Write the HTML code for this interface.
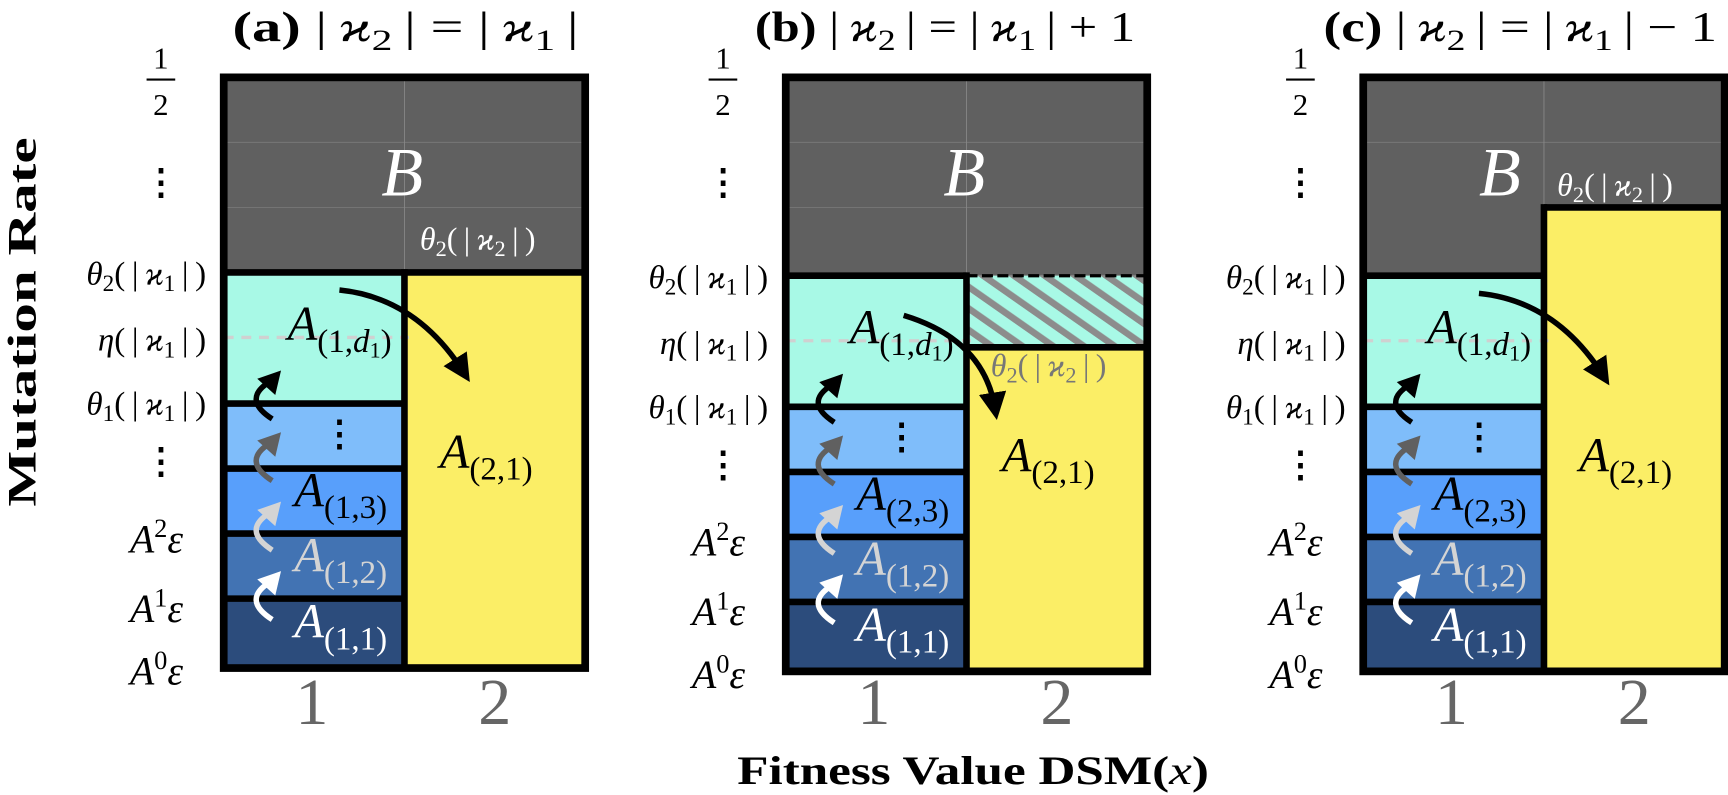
<!DOCTYPE html>
<html><head><meta charset="utf-8">
<style>
html,body{margin:0;padding:0;background:#fff;width:1728px;height:795px;overflow:hidden}
svg{display:block}
text{font-family:"Liberation Serif","DejaVu Serif",serif}
</style></head>
<body>
<svg id="fig" width="1728" height="795" viewBox="0 0 1568 721" xmlns="http://www.w3.org/2000/svg">
<defs>
<marker id="hbig" markerWidth="5" markerHeight="5" refX="3" refY="2.5" orient="auto" markerUnits="strokeWidth"><path d="M0,0 L5,2.5 L0,5 z" fill="#000"/></marker>
<pattern id="hatch" patternUnits="userSpaceOnUse" width="16" height="16" patternTransform="rotate(-55)">
<rect width="16" height="16" fill="#a8f9e6"/><rect width="6" height="16" fill="#8c8c8c"/></pattern>
</defs>
<g id="root"></g>
</svg>
<script>
const panelIds = ['a','b','c'];
const panelX = [203, 713, 1237];
const panelDy = [0, 3, 3];
const titleRhs = ['', ' + 1', ' − 1'];
const titleX = [211, 685, 1201];
const titleLen = [314, 345, 357];
const rowEdges = [70, 247, 366, 425, 484, 543, 606];
const rowColors = ['#606060','#a8f9e6','#7fbdfa','#589ffb','#4273b3','#2c4c7c'];
const subs = [['(1,1)','(1,2)','(1,3)'],['(1,1)','(1,2)','(2,3)'],['(1,1)','(1,2)','(2,3)']];
const NS = 'http://www.w3.org/2000/svg';
const root = document.getElementById('root');
function el(tag, attrs, parent, txt){
  const e = document.createElementNS(NS, tag);
  for (const k in attrs) e.setAttribute(k, attrs[k]);
  if (txt !== undefined) e.textContent = txt;
  (parent||root).appendChild(e); return e;
}
function tsp(t, txt, attrs){ return el('tspan', attrs||{}, t, txt); }
function mathA(g, x, y, sub, fill, name){
  const t = el('text', {x:x, y:y, 'font-size':44, fill:fill, 'font-style':'italic'}, g);
  
  
  tsp(t, 'A');
  const parts = sub.match(/\((\d),(.+)\)/);
  tsp(t, '(' + parts[1] + ',', {dy:11, 'font-size':30, 'font-style':'normal'});
  if (parts[2] === 'd') { tsp(t, 'd', {'font-size':30}); tsp(t, '1', {dy:5,'font-size':20,'font-style':'normal'}); tsp(t, ')', {dy:-5,'font-size':30,'font-style':'normal'}); }
  else tsp(t, parts[2] + ')', {'font-size':30, 'font-style':'normal'});
  return t;
}
function funcLabel(g, x, y, fn, sub, inner, isub, fill, size, anchor, name){
  const t = el('text', {x:x, y:y, 'font-size':size, fill:fill, 'text-anchor':anchor||'start'}, g);
  
  
  tsp(t, fn, {'font-style':'italic'});
  if (sub) tsp(t, sub, {dy:6, 'font-size':size*0.7});
  tsp(t, '(\u2009|\u2009', {dy: sub ? -6 : 0});
  tsp(t, inner, {'font-style':'italic'});
  tsp(t, isub, {dy:6, 'font-size':size*0.7});
  tsp(t, '\u2009|\u2009)', {dy:-6});
  return t;
}
function head(g, tx, ty, ang, color, size){
  const a = ang*Math.PI/180, s = size;
  const p1 = [tx, ty];
  const bx = tx - s*Math.cos(a), by = ty - s*Math.sin(a);
  const p2 = [bx + 0.55*s*Math.sin(a), by - 0.55*s*Math.cos(a)];
  const p3 = [bx - 0.55*s*Math.sin(a), by + 0.55*s*Math.cos(a)];
  return el('polygon', {points:[p1,p2,p3].map(p=>p.join(',')).join(' '), fill:color}, g);
}
panelIds.forEach((pid, i) => {
  const X = panelX[i], dy = panelDy[i], W = 328, M = X + 164, R = X + W;
  const Y = v => v + (v > 100 ? dy : 0);
  const g = el('g', {});
  
  
  for (let r = 0; r < rowColors.length; r++) {
    const top = Y(rowEdges[r]), bot = Y(rowEdges[r+1]);
    const rc = el('rect', {x:X, y:top, width:(r===0?W:164), height:bot-top, fill:rowColors[r]}, g);
    
    
  }
  const yTopRight = i===2 ? 188 : (i===1 ? Y(312) : Y(247));
  if (i===1) {
    const h = el('rect', {x:M, y:Y(247), width:164, height:Y(312)-Y(247), fill:'url(#hatch)'}, g);
    
    
  }
  const yel = el('rect', {x:M, y:yTopRight, width:164, height:Y(606)-yTopRight, fill:'#fbee66'}, g);
  
  
  [129,188].forEach(yy => { if (!(i===2 && yy===188)) el('line', {x1:X, x2:R, y1:yy, y2:yy, stroke:'#777', 'stroke-width':0.8}, g); });
  el('line', {x1:M, x2:M, y1:70, y2:(i===2?188:247), stroke:'#888', 'stroke-width':0.8}, g);
  el('line', {x1:X, x2:M+4, y1:Y(306), y2:Y(306), stroke:'#d0d0d0', 'stroke-width':3, 'stroke-dasharray':'9,7'}, g);
  const bw = 6;
  for (let r = 2; r < rowEdges.length-1; r++) el('line', {x1:X, x2:M, y1:Y(rowEdges[r]), y2:Y(rowEdges[r]), stroke:'#000', 'stroke-width':bw}, g);
  el('line', {x1:X, x2:(i===0?R:M), y1:Y(247), y2:Y(247), stroke:'#000', 'stroke-width':bw}, g);
  if (i===1) {
    el('line', {x1:M, x2:R, y1:Y(247), y2:Y(247), stroke:'#000', 'stroke-width':3, 'stroke-dasharray':'10,4'}, g);
    el('line', {x1:M, x2:R, y1:Y(312), y2:Y(312), stroke:'#000', 'stroke-width':bw}, g);
  }
  if (i===2) el('line', {x1:M, x2:R, y1:188, y2:188, stroke:'#000', 'stroke-width':bw}, g);
  el('line', {x1:M, x2:M, y1:(i===2?185:Y(244)), y2:Y(606), stroke:'#000', 'stroke-width':bw}, g);
  const ob = el('rect', {x:X, y:70, width:W, height:Y(606)-70, fill:'none', stroke:'#000', 'stroke-width':7}, g);
  
  
  const b = el('text', {x:(i===2? X+124 : X+162), y:177, 'font-size':62, fill:'#fff', 'font-style':'italic', 'text-anchor':'middle'}, g, 'B');
  
  
  if (i===0) funcLabel(g, X+178, 226, 'θ', '2', 'ϰ', '2', '#fff', 29, 'start', 'theta2-x2-label');
  if (i===1) funcLabel(g, X+186, Y(338), 'θ', '2', 'ϰ', '2', '#777', 29, 'start', 'theta2-x2-label');
  if (i===2) funcLabel(g, X+176, 177, 'θ', '2', 'ϰ', '2', '#fff', 29, 'start', 'theta2-x2-label');
  mathA(g, X+58, Y(308), '(1,d)', '#000', 'label-a1d1');
  const dots = el('text', {x:X+105, y:Y(404), 'font-size':32, 'text-anchor':'middle', fill:'#000', 'font-weight':'bold'}, g, '⋮');
  
  
  mathA(g, X+64, Y(459), subs[i][2], '#000', 'label-a13');
  mathA(g, X+64, Y(518), subs[i][1], '#d4d4d4', 'label-a12');
  mathA(g, X+64, Y(578), subs[i][0], '#fff', 'label-a11');
  mathA(g, X+196, Y(424), '(2,1)', '#000', 'label-a21');
  const arrows = [['#000',336],['#606060',392],['#d4d4d4',455],['#fff',518]];
  arrows.forEach(([c, tipY], k) => {
    const ty = Y(tipY), tl = ty + 44;
    const p = el('path', {d:`M${X+44},${tl} Q${X+16},${ty+26} ${X+42},${ty+10}`, fill:'none', stroke:c, 'stroke-width':5}, g);
    
    
    const h = head(g, X+52, ty, -48, c, 20);
    
    
  });
  const big = i===1
    ? `M${X+107},${Y(283)} Q${X+180},${Y(305)} ${X+190},${Y(368)}`
    : `M${X+105},${Y(263)} Q${X+175},${Y(270)} ${X+218},${Y(338)}`;
  const ba = el('path', {d:big, fill:'none', stroke:'#000', 'stroke-width':5, 'marker-end':'url(#hbig)'}, g);
  
  
  ['1','2'].forEach((lab, k) => {
    const t = el('text', {x:X + 80 + k*166, y:657, 'font-size':60, fill:'#666', 'text-anchor':'middle'}, g, lab);
    
    
  });
  const LX = X - 57;
  const f1 = el('text', {x:LX, y:62, 'font-size':28, 'text-anchor':'middle'}, g, '1');
   
  el('line', {x1:LX-13, x2:LX+13, y1:72, y2:72, stroke:'#000', 'stroke-width':2}, g);
  const f2 = el('text', {x:LX, y:104, 'font-size':28, 'text-anchor':'middle'}, g, '2');
   
  [176, Y(429)].forEach(yy => { const d = el('text', {x:LX, y:yy, 'font-size':32, 'text-anchor':'middle', 'font-weight':'bold'}, g, '⋮');   });
  funcLabel(g, X-16, Y(258), 'θ', '2', 'ϰ', '1', '#000', 30, 'end', 'y-tick-theta2');
  funcLabel(g, X-16, Y(318), 'η', '', 'ϰ', '1', '#000', 30, 'end', 'y-tick-eta');
  funcLabel(g, X-16, Y(376), 'θ', '1', 'ϰ', '1', '#000', 30, 'end', 'y-tick-theta1');
  [['2',501],['1',564],['0',621]].forEach(([e, yy]) => {
    const t = el('text', {x:LX-4, y:Y(yy), 'font-size':36, 'text-anchor':'middle', 'font-style':'italic'}, g);
    
    
    tsp(t, 'A'); tsp(t, e, {dy:-14, 'font-size':24, 'font-style':'normal'}); tsp(t, 'ε', {dy:14});
  });
  const tt = el('text', {x:titleX[i], y:37, 'font-size':38, textLength:titleLen[i], lengthAdjust:'spacingAndGlyphs'}, g);
  
  
  tsp(tt, '(' + pid + ')', {'font-weight':'bold'});
  tsp(tt, '  |\u2009');
  tsp(tt, 'ϰ', {'font-style':'italic'});
  tsp(tt, '2', {dy:8, 'font-size':27});
  tsp(tt, '\u2009| = |\u2009', {dy:-8});
  tsp(tt, 'ϰ', {'font-style':'italic'});
  tsp(tt, '1', {dy:8, 'font-size':27});
  tsp(tt, '\u2009|' + titleRhs[i], {dy:-8});
});
const yt = el('text', {x:0, y:0, 'font-size':36, 'font-weight':'bold', 'text-anchor':'middle', textLength:335, lengthAdjust:'spacingAndGlyphs', transform:'translate(32,292) rotate(-90)'}, root, 'Mutation Rate');


const xt = el('text', {x:669, y:711, 'font-size':36, 'font-weight':'bold', textLength:428, lengthAdjust:'spacingAndGlyphs'}, root);


tsp(xt, 'Fitness Value DSM(');
tsp(xt, 'x', {'font-style':'italic', 'font-weight':'normal'});
tsp(xt, ')');
</script>
</body></html>
